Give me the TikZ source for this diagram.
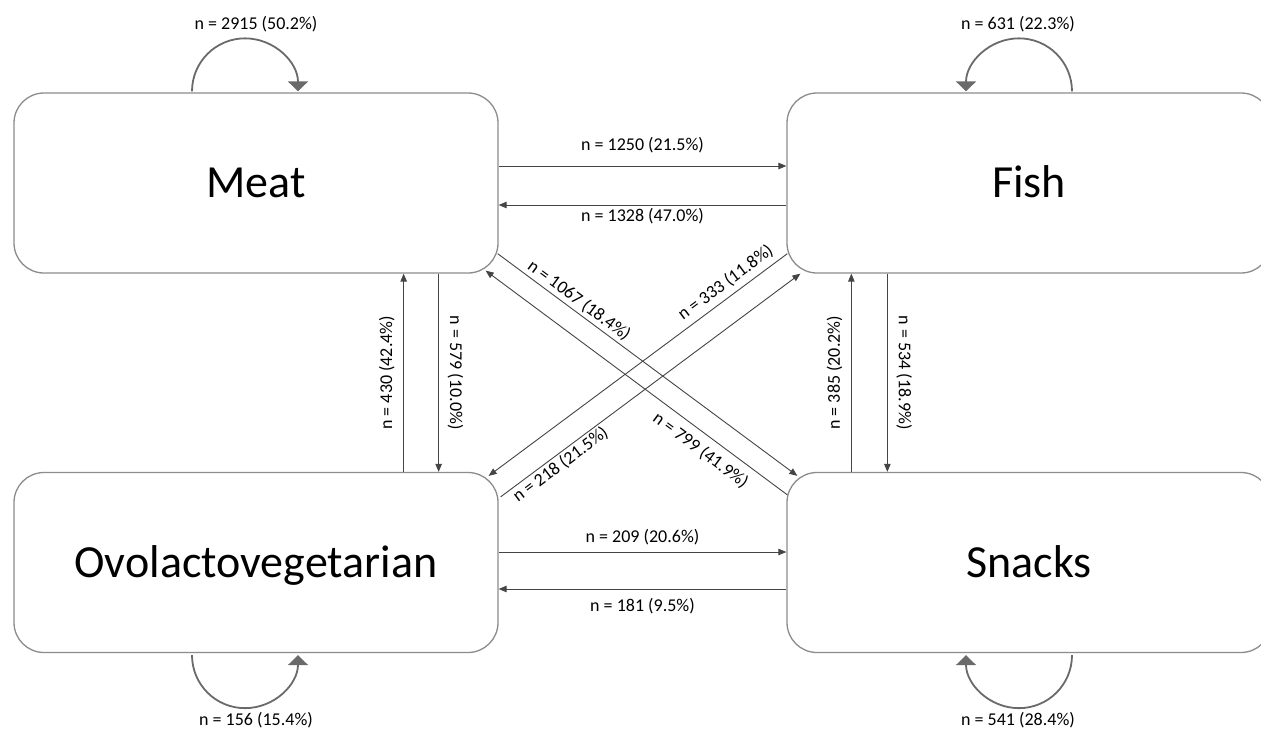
\documentclass[tikz,border=0pt]{standalone}
\usepackage{fontspec}
\setmainfont{Carlito}
\usetikzlibrary{arrows.meta,calc}
\definecolor{boxgray}{HTML}{8C8C8C}
\definecolor{linegray}{HTML}{454545}
\definecolor{loopgray}{HTML}{6A6A6A}
\begin{document}
\begin{tikzpicture}[x=1pt,y=-1pt,
  box/.style={draw=boxgray, line width=1.3pt, rounded corners=30pt,
    minimum width=484pt, minimum height=180pt, inner sep=0pt,
    font=\fontsize{46}{46}\selectfont, text height=29.6pt, text depth=0pt},
  conn/.style={draw=linegray, line width=0.9pt, -{Triangle[length=8pt,width=6.5pt]}},
  selfloop/.style={draw=loopgray, line width=1.8pt, -{Triangle[length=10pt,width=20pt]}},
  lab/.style={font=\fontsize{18}{18}\selectfont, text=black}]
\clip (0,0) rectangle (1261,729);
\useasboundingbox (0,0) rectangle (1261,729);
\fill[white] (0,0) rectangle (1261,729);

\node[box] (Meat) at (256,183) {Meat};
\node[box] (Fish) at (1029,183) {Fish};
\node[box] (Ovo) at (256,562.5) {Ovolactovegetarian};
\node[box] (Snacks) at (1029,562.5) {Snacks};

% horizontal
\draw[conn] ([yshift=17pt]Meat.east) -- node[lab, above, inner sep=12.5pt] {n = 1250 (21.5\%)} ([yshift=17pt]Fish.west);
\draw[conn] ([yshift=-22pt]Fish.west) -- node[lab, below, inner sep=2.7pt] {n = 1328 (47.0\%)} ([yshift=-22pt]Meat.east);
\draw[conn] ([yshift=10.5pt]Ovo.east) -- node[lab, above, inner sep=6.7pt] {n = 209 (20.6\%)} ([yshift=10.5pt]Snacks.west);
\draw[conn] ([yshift=-26.5pt]Snacks.west) -- node[lab, below, inner sep=9pt] {n = 181 (9.5\%)} ([yshift=-26.5pt]Ovo.east);

% vertical
\draw[conn] ([xshift=-95pt]Ovo.north east) -- node[lab, sloped, above, inner sep=8.5pt] {n = 430 (42.4\%)} ([xshift=-95pt]Meat.south east);
\draw[conn] ([xshift=-60pt]Meat.south east) -- node[lab, sloped, above, inner sep=8.5pt] {n = 579 (10.0\%)} ([xshift=-60pt]Ovo.north east);
\draw[conn] ([xshift=65pt]Snacks.north west) -- node[lab, sloped, above, inner sep=8.5pt] {n = 385 (20.2\%)} ([xshift=65pt]Fish.south west);
\draw[conn] ([xshift=101pt]Fish.south west) -- node[lab, sloped, above, inner sep=8.5pt] {n = 534 (18.9\%)} ([xshift=101pt]Snacks.north west);

% diagonals
\draw[conn] ($(Meat.south east)+(-1,-20)$) -- node[lab, pos=0.25, sloped, above, inner sep=2.7pt] {n = 1067 (18.4\%)} ($(Snacks.north west)+(11,4)$);
\draw[conn] ($(Snacks.north west)+(1,23)$) -- node[lab, pos=0.256, sloped, below, inner sep=7.7pt] {n = 799 (41.9\%)} ($(Meat.south east)+(-13,-3)$);
\draw[conn] ($(Fish.south west)+(1,-20)$) -- node[lab, pos=0.18, sloped, above, inner sep=5.4pt] {n = 333 (11.8\%)} ($(Ovo.north east)+(-10,4)$);
\draw[conn] ($(Ovo.north east)+(2,25)$) -- node[lab, pos=0.18, sloped, below, inner sep=1.7pt] {n = 218 (21.5\%)} ($(Fish.south west)+(14,0)$);

% self loops
\draw[selfloop] ($(Meat.north)+(-64,-1)$) arc[start angle=180, end angle=360, radius=53];
\draw[selfloop] ($(Fish.north)+(43,-1)$) arc[start angle=0, end angle=-180, radius=53];
\draw[selfloop] ($(Ovo.south)+(-64,2)$) arc[start angle=180, end angle=0, radius=53];
\draw[selfloop] ($(Snacks.south)+(43,2)$) arc[start angle=0, end angle=180, radius=53];

\node[lab] (lMeat) at (256,24) {n = 2915 (50.2\%)};
\node[lab] (lFish) at (1018,24) {n = 631 (22.3\%)};
\node[lab] (lOvo) at (256,720) {n = 156 (15.4\%)};
\node[lab] (lSnacks) at (1018,720) {n = 541 (28.4\%)};
\end{tikzpicture}
\end{document}
